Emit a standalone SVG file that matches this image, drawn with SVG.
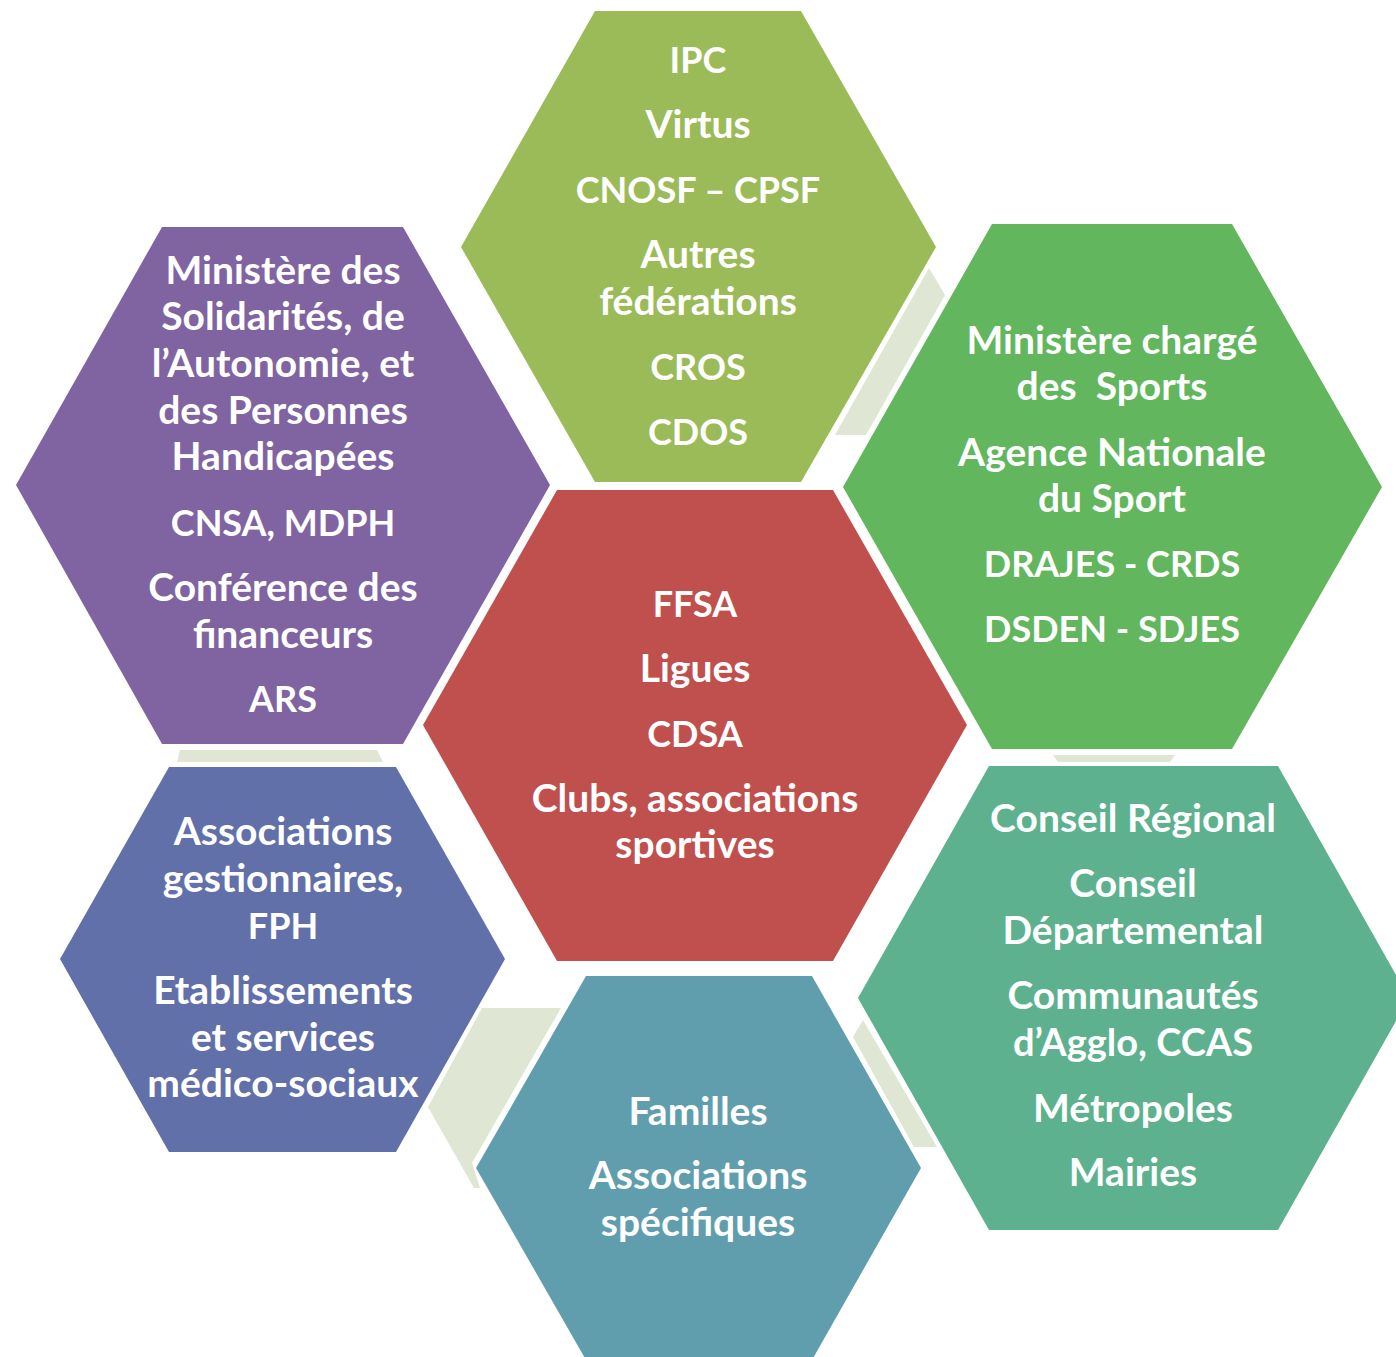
<svg xmlns="http://www.w3.org/2000/svg" width="1396" height="1357" viewBox="0 0 1396 1357">
<style>
.t{fill:#FFFFFF;font-family:Lato,"Open Sans","Liberation Sans",sans-serif;font-weight:700;font-size:39px;text-anchor:middle}
.u{font-size:36px}
.m{font-size:38px}
.link{fill:#DFE6D3}
</style>
<rect width="1396" height="1357" fill="#FFFFFF"/>
<g id="connectors">
<polygon class="link" points="929,268 945,295 866,435 835,435"/>
<polygon class="link" points="180,750 377,750 383,762 177,762"/>
<polygon class="link" points="1053,755 1175,755 1170,762 1058,762"/>
<polygon class="link" points="482,1008 561,1008 472,1163 480,1188 474,1188 428,1107"/>
<polygon class="link" points="863,1020 937,1147 914,1147 853,1037"/>
</g>
<g id="node-sport-federations">
<polygon points="595,11 801,11 936,247 801,482 595,482 461,247" fill="#9BBB59"/>
<text class="t u" x="698" y="73">IPC</text>
<text class="t" x="698" y="138">Virtus</text>
<text class="t u" x="698" y="203">CNOSF – CPSF</text>
<text class="t" x="698" y="268">Autres</text>
<text class="t" x="698" y="315">fédérations</text>
<text class="t u" x="698" y="380">CROS</text>
<text class="t u" x="698" y="445">CDOS</text>
</g>
<g id="node-solidarity">
<polygon points="162,227 403,227 550,485 403,744 162,744 16,485" fill="#8064A2"/>
<text class="t" x="283" y="284">Ministère des</text>
<text class="t" x="283" y="330">Solidarités, de</text>
<text class="t" x="283" y="377">l’Autonomie, et</text>
<text class="t" x="283" y="424">des Personnes</text>
<text class="t" x="283" y="470">Handicapées</text>
<text class="t u" x="283" y="536">CNSA, MDPH</text>
<text class="t" x="283" y="601">Conférence des</text>
<text class="t" x="283" y="648">financeurs</text>
<text class="t u" x="283" y="712">ARS</text>
</g>
<g id="node-sports-ministry">
<polygon points="992,224 1232,224 1382,487 1232,749 992,749 843,487" fill="#61B65E"/>
<text class="t" x="1112" y="354" xml:space="preserve">Ministère chargé</text>
<text class="t" x="1112" y="400" xml:space="preserve">des  Sports</text>
<text class="t" x="1112" y="466">Agence Nationale</text>
<text class="t" x="1112" y="512">du Sport</text>
<text class="t u" x="1112" y="577">DRAJES - CRDS</text>
<text class="t u" x="1112" y="642">DSDEN - SDJES</text>
</g>
<g id="node-ffsa">
<polygon points="557,490 833,490 967,725 833,961 557,961 423,725" fill="#C0504D"/>
<text class="t u" x="695" y="617">FFSA</text>
<text class="t" x="695" y="682">Ligues</text>
<text class="t u" x="695" y="747">CDSA</text>
<text class="t" x="695" y="812">Clubs, associations</text>
<text class="t" x="695" y="858">sportives</text>
</g>
<g id="node-medico-social">
<polygon points="169,767 396,767 505,959 396,1152 169,1152 60,959" fill="#6270A9"/>
<text class="t" x="283" y="845">Associations</text>
<text class="t" x="283" y="892">gestionnaires,</text>
<text class="t u" x="283" y="939">FPH</text>
<text class="t" x="283" y="1004">Etablissements</text>
<text class="t" x="283" y="1051">et services</text>
<text class="t" x="283" y="1097">médico-sociaux</text>
</g>
<g id="node-families">
<polygon points="586,976 812,976 921,1168 812,1360 586,1360 476,1168" fill="#619EAD"/>
<text class="t" x="698" y="1125">Familles</text>
<text class="t" x="698" y="1189">Associations</text>
<text class="t" x="698" y="1236">spécifiques</text>
</g>
<g id="node-local-authorities">
<polygon points="989,766 1278,766 1409,998 1278,1230 989,1230 858,998" fill="#5DB18F"/>
<text class="t" x="1133" y="832">Conseil Régional</text>
<text class="t" x="1133" y="897">Conseil</text>
<text class="t" x="1133" y="944">Départemental</text>
<text class="t" x="1133" y="1009">Communautés</text>
<text class="t m" x="1133" y="1056">d’Agglo, CCAS</text>
<text class="t" x="1133" y="1122">Métropoles</text>
<text class="t" x="1133" y="1186">Mairies</text>
</g>
</svg>
